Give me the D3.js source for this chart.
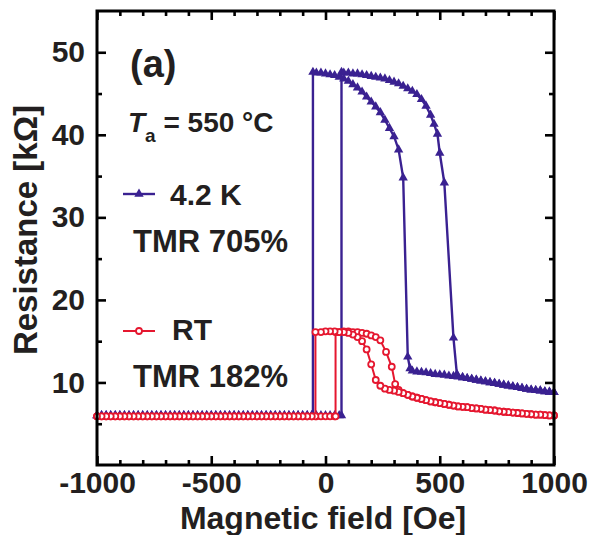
<!DOCTYPE html>
<html>
<head>
<meta charset="utf-8">
<script src="https://cdn.jsdelivr.net/npm/d3@7"></script>
<style>
body { margin: 0; background: #fff; }
text { font-family: "Liberation Sans", Arial, sans-serif; font-weight: bold; fill: #231f20; }
</style>
</head>
<body>
<svg id="chart" width="589" height="535"></svg>
<script>
const blueColor = '#3a2191';
const redColor = '#e5172f';

// x ticks / y ticks
const xMajor = [-1000, -500, 0, 500, 1000];
const xMinor = [-900, -800, -700, -600, -400, -300, -200, -100, 100, 200, 300, 400, 600, 700, 800, 900];
const yMajor = [10, 20, 30, 40, 50];
const yMinor = [5, 15, 25, 35, 45];

// 4.2 K, field swept upward: [field Oe, resistance kOhm]
const blueUp = [
  [-1000, 6], [-980, 6], [-960, 6], [-940, 6], [-920, 6], [-900, 6], [-880, 6], [-860, 6], [-840, 6], [-820, 6],
  [-800, 6], [-780, 6], [-760, 6], [-740, 6], [-720, 6], [-700, 6], [-680, 6], [-660, 6], [-640, 6], [-620, 6],
  [-600, 6], [-580, 6], [-560, 6], [-540, 6], [-520, 6], [-500, 6], [-480, 6], [-460, 6], [-440, 6], [-420, 6],
  [-400, 6], [-380, 6], [-360, 6], [-340, 6], [-320, 6], [-300, 6], [-280, 6], [-260, 6], [-240, 6], [-220, 6],
  [-200, 6], [-180, 6], [-160, 6], [-140, 6], [-120, 6], [-100, 6], [-80, 6], [-60, 6], [-40, 6], [-20, 6],
  [0, 6], [20, 6], [40, 6], [60, 6], [70, 6],
  [70, 47.6], [80, 47.5], [100, 47.5], [120, 47.4], [140, 47.4], [160, 47.3], [180, 47.2], [200, 47.1],
  [220, 47.0], [240, 46.9], [260, 46.8], [280, 46.6], [300, 46.4], [320, 46.2], [340, 45.9], [360, 45.6],
  [380, 45.3], [400, 44.9], [420, 44.3], [440, 43.5], [460, 42.4], [475, 41.3], [490, 40.1], [500, 37.8],
  [520, 34.2], [560, 15.4], [575, 11.0], [600, 10.6], [620, 10.5], [640, 10.4], [660, 10.3], [680, 10.2],
  [700, 10.1], [720, 10.0], [740, 9.9], [760, 9.8], [780, 9.7], [800, 9.6], [820, 9.5], [840, 9.4],
  [860, 9.3], [880, 9.2], [900, 9.1], [920, 9.05], [940, 9.0], [960, 8.9], [980, 8.85], [1000, 8.8]
];

// 4.2 K, field swept downward
const blueDown = [
  [1000, 8.8], [980, 8.85], [960, 8.9], [940, 9.0], [920, 9.05], [900, 9.1], [880, 9.2], [860, 9.3],
  [840, 9.4], [820, 9.5], [800, 9.6], [780, 9.7], [760, 9.8], [740, 9.9], [720, 10.0], [700, 10.1],
  [680, 10.2], [660, 10.3], [640, 10.4], [620, 10.5], [600, 10.6], [580, 10.7], [560, 10.75], [540, 10.8],
  [520, 10.9], [500, 10.95], [480, 11.0], [460, 11.1], [440, 11.2], [420, 11.25], [400, 11.3], [380, 11.4],
  [370, 11.7], [360, 13.1], [340, 34.8], [320, 38.2], [300, 39.8], [280, 40.8], [260, 41.8], [240, 42.7],
  [220, 43.4], [200, 44.0], [180, 44.6], [160, 45.2], [140, 45.7], [120, 46.1], [100, 46.5], [80, 46.8],
  [60, 47.0], [40, 47.2], [20, 47.3], [0, 47.4], [-20, 47.5], [-40, 47.5], [-55, 47.6],
  [-55, 6], [-60, 6], [-80, 6], [-100, 6], [-120, 6], [-140, 6], [-160, 6], [-180, 6], [-200, 6],
  [-220, 6], [-240, 6], [-260, 6], [-280, 6], [-300, 6], [-320, 6], [-340, 6], [-360, 6], [-380, 6],
  [-400, 6], [-420, 6], [-440, 6], [-460, 6], [-480, 6], [-500, 6], [-520, 6], [-540, 6], [-560, 6],
  [-580, 6], [-600, 6], [-620, 6], [-640, 6], [-660, 6], [-680, 6], [-700, 6], [-720, 6], [-740, 6],
  [-760, 6], [-780, 6], [-800, 6], [-820, 6], [-840, 6], [-860, 6], [-880, 6], [-900, 6], [-920, 6],
  [-940, 6], [-960, 6], [-980, 6], [-1000, 6]
];

// RT, field swept upward
const redUp = [
  [-1000, 5.9], [-980, 5.9], [-960, 5.9], [-940, 5.9], [-920, 5.9], [-900, 5.9], [-880, 5.9], [-860, 5.9],
  [-840, 5.9], [-820, 5.9], [-800, 5.9], [-780, 5.9], [-760, 5.9], [-740, 5.9], [-720, 5.9], [-700, 5.9],
  [-680, 5.9], [-660, 5.9], [-640, 5.9], [-620, 5.9], [-600, 5.9], [-580, 5.9], [-560, 5.9], [-540, 5.9],
  [-520, 5.9], [-500, 5.9], [-480, 5.9], [-460, 5.9], [-440, 5.9], [-420, 5.9], [-400, 5.9], [-380, 5.9],
  [-360, 5.9], [-340, 5.9], [-320, 5.9], [-300, 5.9], [-280, 5.9], [-260, 5.9], [-240, 5.9], [-220, 5.9],
  [-200, 5.9], [-180, 5.9], [-160, 5.9], [-140, 5.9], [-120, 5.9], [-100, 5.9], [-80, 5.9], [-60, 5.9],
  [-40, 5.9], [-20, 5.9], [0, 5.9], [20, 5.9], [40, 5.9], [44, 5.9],
  [44, 16.1], [60, 16.1], [80, 16.2], [100, 16.2], [120, 16.1], [140, 16.1], [160, 16.0], [180, 15.9],
  [200, 15.7], [220, 15.5], [240, 15.1], [265, 13.7], [290, 11.9], [305, 9.8], [320, 9.1], [340, 8.7],
  [360, 8.5], [380, 8.3], [400, 8.15], [420, 8.0], [440, 7.85], [460, 7.7], [480, 7.6], [500, 7.5],
  [520, 7.4], [540, 7.3], [560, 7.2], [580, 7.1], [600, 7.05], [620, 7.0], [640, 6.9], [660, 6.85],
  [680, 6.8], [700, 6.7], [720, 6.65], [740, 6.6], [760, 6.5], [780, 6.45], [800, 6.4], [820, 6.35],
  [840, 6.3], [860, 6.25], [880, 6.2], [900, 6.15], [920, 6.1], [940, 6.1], [960, 6.05], [980, 6.0], [1000, 6.0]
];

// RT, field swept downward
const redDown = [
  [1000, 6.0], [980, 6.0], [960, 6.05], [940, 6.1], [920, 6.1], [900, 6.15], [880, 6.2], [860, 6.25],
  [840, 6.3], [820, 6.35], [800, 6.4], [780, 6.45], [760, 6.5], [740, 6.6], [720, 6.65], [700, 6.7],
  [680, 6.8], [660, 6.85], [640, 6.9], [620, 7.0], [600, 7.05], [580, 7.1], [560, 7.2], [540, 7.3],
  [520, 7.4], [500, 7.5], [480, 7.6], [460, 7.7], [440, 7.85], [420, 8.0], [400, 8.15], [380, 8.3],
  [360, 8.5], [340, 8.7], [320, 8.85], [300, 9.0], [280, 9.1], [260, 9.25], [240, 9.6], [220, 10.3],
  [200, 12.2], [180, 14.0], [160, 15.0], [140, 15.5], [120, 15.8], [100, 16.0], [80, 16.1], [60, 16.1],
  [40, 16.2], [20, 16.2], [0, 16.2], [-20, 16.1], [-44, 16.1],
  [-44, 5.9], [-60, 5.9], [-80, 5.9], [-100, 5.9], [-120, 5.9], [-140, 5.9], [-160, 5.9], [-180, 5.9],
  [-200, 5.9], [-220, 5.9], [-240, 5.9], [-260, 5.9], [-280, 5.9], [-300, 5.9], [-320, 5.9], [-340, 5.9],
  [-360, 5.9], [-380, 5.9], [-400, 5.9], [-420, 5.9], [-440, 5.9], [-460, 5.9], [-480, 5.9], [-500, 5.9],
  [-520, 5.9], [-540, 5.9], [-560, 5.9], [-580, 5.9], [-600, 5.9], [-620, 5.9], [-640, 5.9], [-660, 5.9],
  [-680, 5.9], [-700, 5.9], [-720, 5.9], [-740, 5.9], [-760, 5.9], [-780, 5.9], [-800, 5.9], [-820, 5.9],
  [-840, 5.9], [-860, 5.9], [-880, 5.9], [-900, 5.9], [-920, 5.9], [-940, 5.9], [-960, 5.9], [-980, 5.9], [-1000, 5.9]
];

var svg = d3.select('#chart');
var x = d3.scaleLinear().domain([-1000, 1000]).range([97, 554]);
var y = d3.scaleLinear().domain([0, 55]).range([465, 11]);

var line = d3.line()
    .x(function(d) { return x(d[0]); })
    .y(function(d) { return y(d[1]); });
var tri = d3.symbol().type(d3.symbolTriangle).size(38);

function drawBlue(data) {
    svg.append('path').datum(data)
        .attr('d', line).attr('fill', 'none')
        .attr('stroke', blueColor).attr('stroke-width', 2.4);
    svg.append('g').selectAll('path')
        .data(data).join('path')
        .attr('d', tri)
        .attr('transform', function(d) { return 'translate(' + x(d[0]) + ',' + y(d[1]) + ')'; })
        .attr('fill', blueColor);
}

function drawRed(data) {
    svg.append('path').datum(data)
        .attr('d', line).attr('fill', 'none')
        .attr('stroke', redColor).attr('stroke-width', 2);
    svg.append('g').selectAll('circle')
        .data(data).join('circle')
        .attr('cx', function(d) { return x(d[0]); })
        .attr('cy', function(d) { return y(d[1]); })
        .attr('r', 3)
        .attr('fill', '#fff')
        .attr('stroke', redColor).attr('stroke-width', 1.8);
}

drawBlue(blueUp);
drawBlue(blueDown);
drawRed(redUp);
drawRed(redDown);

// axes: ticks point inward on all four sides
function styleAxis(g) {
    g.select('.domain').remove();
    g.selectAll('.tick line').attr('stroke', '#000').attr('stroke-width', 2.6);
    g.selectAll('.tick text').attr('font-size', 30).attr('fill', '#231f20');
}

svg.append('g').attr('transform', 'translate(0,465)')
    .call(d3.axisBottom(x).tickValues(xMajor).tickSizeInner(-9).tickSizeOuter(0).tickPadding(7)
          .tickFormat(function(d) { return String(d); }))
    .call(styleAxis);
svg.append('g').attr('transform', 'translate(0,465)')
    .call(d3.axisBottom(x).tickValues(xMinor).tickSizeInner(-5).tickSizeOuter(0).tickFormat(''))
    .call(styleAxis);
svg.append('g').attr('transform', 'translate(0,11)')
    .call(d3.axisTop(x).tickValues(xMajor).tickSizeInner(-9).tickSizeOuter(0).tickFormat(''))
    .call(styleAxis);
svg.append('g').attr('transform', 'translate(0,11)')
    .call(d3.axisTop(x).tickValues(xMinor).tickSizeInner(-5).tickSizeOuter(0).tickFormat(''))
    .call(styleAxis);
svg.append('g').attr('transform', 'translate(97,0)')
    .call(d3.axisLeft(y).tickValues(yMajor).tickSizeInner(-9).tickSizeOuter(0).tickPadding(12))
    .call(styleAxis);
svg.append('g').attr('transform', 'translate(97,0)')
    .call(d3.axisLeft(y).tickValues(yMinor).tickSizeInner(-5).tickSizeOuter(0).tickFormat(''))
    .call(styleAxis);
svg.append('g').attr('transform', 'translate(554,0)')
    .call(d3.axisRight(y).tickValues(yMajor).tickSizeInner(-9).tickSizeOuter(0).tickFormat(''))
    .call(styleAxis);
svg.append('g').attr('transform', 'translate(554,0)')
    .call(d3.axisRight(y).tickValues(yMinor).tickSizeInner(-5).tickSizeOuter(0).tickFormat(''))
    .call(styleAxis);

svg.append('rect')
    .attr('x', 97).attr('y', 11).attr('width', 457).attr('height', 454)
    .attr('fill', 'none').attr('stroke', '#000').attr('stroke-width', 3);

// axis titles
svg.append('text').attr('x', 323).attr('y', 529)
    .attr('text-anchor', 'middle').attr('font-size', 32)
    .text('Magnetic field [Oe]');
svg.append('text').attr('transform', 'translate(37,230) rotate(-90)')
    .attr('text-anchor', 'middle').attr('font-size', 33)
    .text('Resistance [kΩ]');

// annotations
svg.append('text').attr('x', 130).attr('y', 77).attr('font-size', 38).text('(a)');
var ta = svg.append('text').attr('x', 128).attr('y', 132).attr('font-size', 28);
ta.append('tspan').attr('font-style', 'italic').text('T');
ta.append('tspan').attr('font-size', 19).attr('dy', 10).text('a');
ta.append('tspan').attr('dy', -10).text(' = 550 °C');

// legend
svg.append('line').attr('x1', 123).attr('x2', 155).attr('y1', 194).attr('y2', 194)
    .attr('stroke', blueColor).attr('stroke-width', 2.4);
svg.append('path').attr('d', tri).attr('transform', 'translate(139,194)').attr('fill', blueColor);
svg.append('text').attr('x', 170).attr('y', 205).attr('font-size', 30).text('4.2 K');
svg.append('text').attr('x', 133).attr('y', 252).attr('font-size', 31).text('TMR 705%');

svg.append('line').attr('x1', 123).attr('x2', 155).attr('y1', 331).attr('y2', 331)
    .attr('stroke', redColor).attr('stroke-width', 2);
svg.append('circle').attr('cx', 139).attr('cy', 331).attr('r', 3)
    .attr('fill', '#fff').attr('stroke', redColor).attr('stroke-width', 1.8);
svg.append('text').attr('x', 172).attr('y', 340).attr('font-size', 30).text('RT');
svg.append('text').attr('x', 133).attr('y', 387).attr('font-size', 31).text('TMR 182%');
</script>
</body>
</html>
